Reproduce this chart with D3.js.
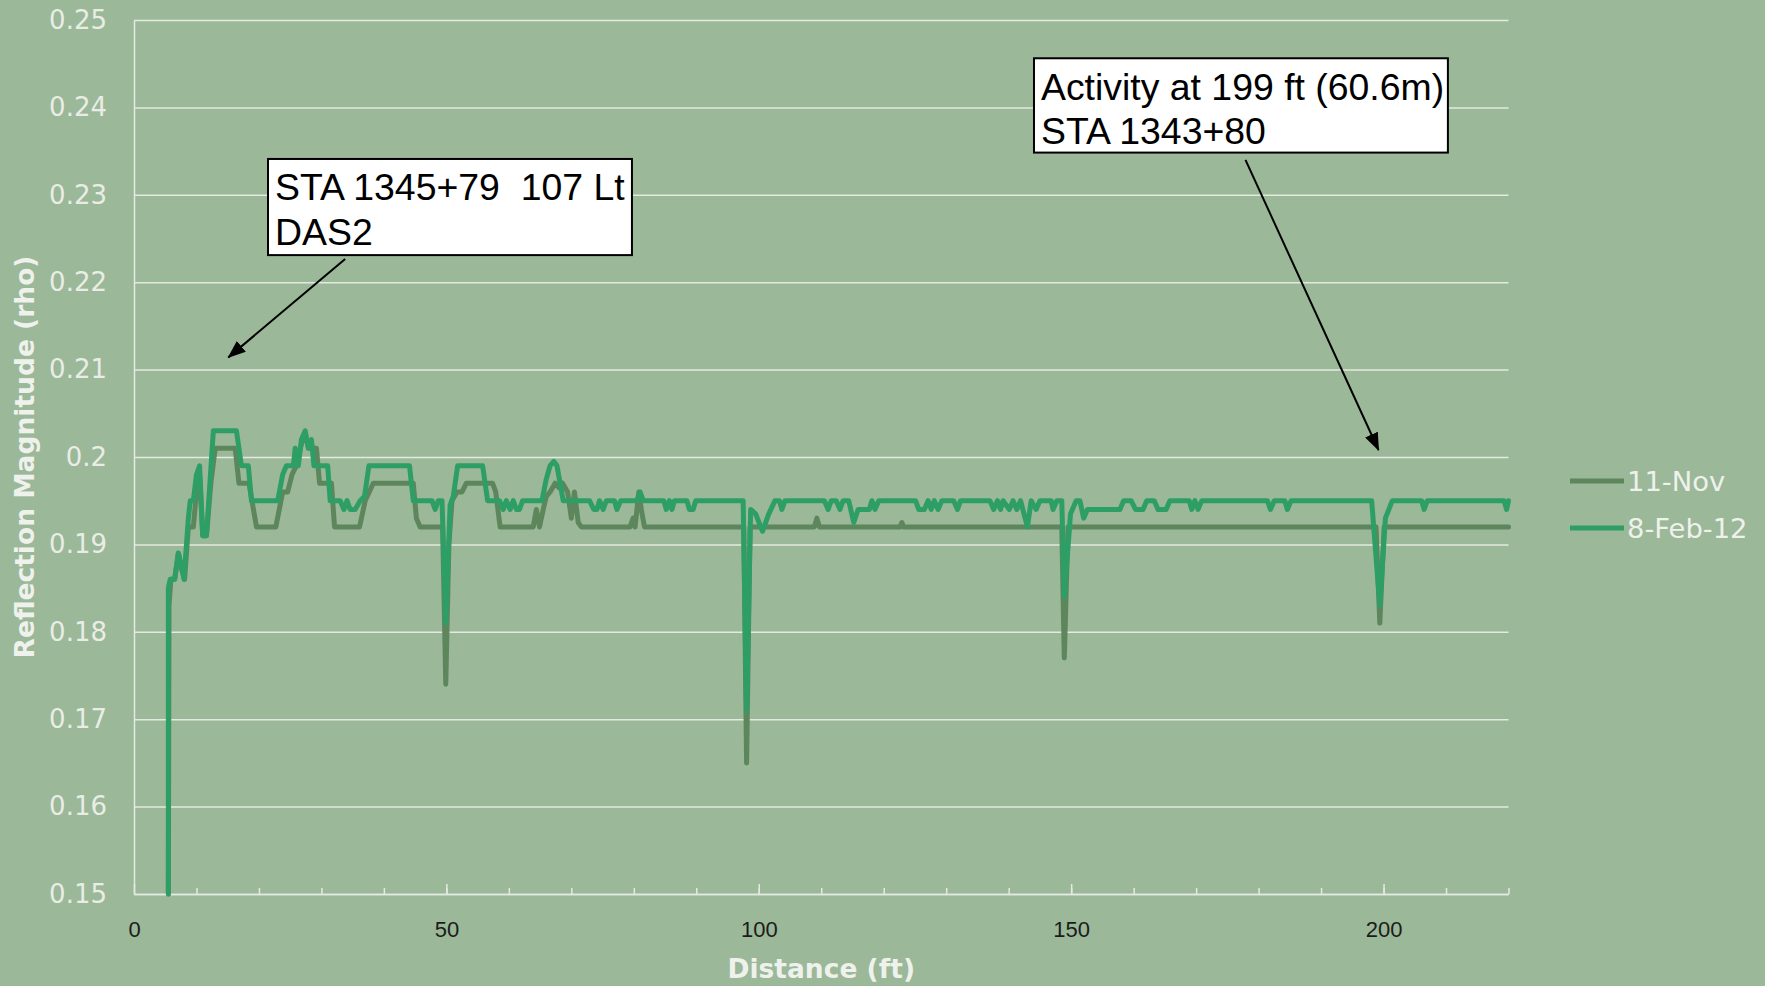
<!DOCTYPE html>
<html>
<head>
<meta charset="utf-8">
<script src="https://cdn.jsdelivr.net/npm/d3@7"></script>
<style>
  body { margin: 0; background: #9bb898; }
  svg { display: block; }
</style>
</head>
<body>
<div id="chart"></div>
<script>
// ---------------------------------------
// Data: [distance (ft), reflection magnitude (rho)]
// ---------------------------------------
const seriesNames = ["11-Nov", "8-Feb-12"];

const nov11 = [
  [5.5,0.150],[5.6,0.183],[5.9,0.186],[6.5,0.186],[7.1,0.189],[7.6,0.1872],[8.1,0.186],[8.7,0.192],
  [9.5,0.192],[10.0,0.196],[10.5,0.198],[11.0,0.191],[11.6,0.191],[12.3,0.197],[13.0,0.201],[16.2,0.201],
  [16.8,0.197],[18.4,0.197],[19.6,0.192],[22.7,0.192],[23.8,0.196],[24.6,0.196],[25.3,0.198],[26.0,0.199],
  [26.8,0.2015],[27.4,0.2025],[28.0,0.201],[29.2,0.201],[29.7,0.197],[31.6,0.197],[32.1,0.192],[36.1,0.192],
  [37.0,0.195],[38.3,0.197],[44.7,0.197],[45.2,0.193],[45.8,0.192],[49.4,0.192],[49.9,0.174],[50.4,0.190],
  [50.9,0.195],[51.7,0.196],[52.5,0.196],[53.2,0.197],[57.4,0.197],[57.9,0.196],[58.6,0.192],[63.9,0.192],
  [64.4,0.194],[64.9,0.192],[65.5,0.194],[66.0,0.1955],[66.6,0.196],[67.4,0.197],[68.0,0.1965],[68.6,0.197],
  [69.4,0.196],[70.0,0.193],[70.5,0.196],[71.1,0.1925],[71.6,0.192],[79.4,0.192],[79.9,0.193],[80.2,0.192],
  [80.8,0.196],[81.2,0.194],[81.7,0.192],[97.6,0.192],[98.05,0.165],[98.6,0.192],[108.9,0.192],[109.3,0.193],
  [109.7,0.192],[122.6,0.192],[122.9,0.1925],[123.2,0.192],[148.5,0.192],[148.9,0.177],[149.5,0.192],
  [198.8,0.192],[199.4,0.181],[200.1,0.192],[220,0.192]
];

const feb12 = [
  [5.5,0.150],[5.5,0.185],[5.8,0.186],[6.5,0.186],[7.1,0.189],[7.6,0.1875],[8.0,0.186],[8.7,0.193],
  [9.0,0.195],[9.5,0.195],[10.0,0.198],[10.5,0.199],[11.0,0.191],[11.6,0.191],[12.7,0.203],[16.4,0.203],
  [17.2,0.199],[18.3,0.199],[18.8,0.195],[23.0,0.195],[23.8,0.198],[24.4,0.199],[25.5,0.199],[25.8,0.201],
  [26.3,0.199],[26.8,0.202],[27.4,0.203],[27.9,0.201],[28.4,0.202],[28.8,0.199],[31.0,0.199],[31.4,0.195],
  [33.0,0.195],[33.6,0.194],[34.1,0.195],[34.6,0.194],[35.4,0.194],[36.2,0.195],[36.9,0.1955],[37.6,0.199],
  [44.1,0.199],[44.7,0.195],[47.7,0.195],[48.2,0.194],[48.7,0.195],[49.3,0.195],[49.9,0.181],[50.6,0.1945],
  [51.1,0.1955],[51.8,0.199],[55.8,0.199],[56.6,0.195],[58.5,0.195],[59.1,0.194],[59.6,0.195],[60.2,0.194],
  [60.7,0.195],[61.2,0.194],[61.7,0.194],[62.2,0.195],[65.3,0.195],[66.0,0.1975],[66.6,0.199],[67.2,0.1995],
  [67.7,0.199],[68.7,0.195],[72.9,0.195],[73.6,0.194],[74.1,0.194],[74.5,0.195],[75.1,0.194],[75.6,0.195],
  [76.9,0.195],[77.3,0.194],[77.9,0.195],[80.5,0.195],[81.0,0.196],[81.5,0.195],[84.8,0.195],[85.2,0.194],
  [85.7,0.195],[86.1,0.194],[86.5,0.195],[88.5,0.195],[88.9,0.194],[89.5,0.194],[89.9,0.195],[97.5,0.195],
  [98.05,0.171],[98.7,0.194],[99.5,0.1935],[100.6,0.1915],[101.6,0.1935],[102.6,0.195],[103.3,0.195],
  [103.7,0.194],[104.2,0.195],[110.5,0.195],[111.1,0.194],[111.6,0.195],[112.4,0.195],[113.0,0.194],
  [113.5,0.195],[114.4,0.195],[115.2,0.1925],[115.9,0.194],[117.7,0.194],[118.1,0.195],[118.6,0.194],
  [119.2,0.195],[125.1,0.195],[125.6,0.194],[126.5,0.194],[127.1,0.195],[127.6,0.194],[128.1,0.195],
  [128.7,0.194],[129.3,0.195],[131.2,0.195],[131.8,0.194],[132.3,0.195],[137.0,0.195],[137.6,0.194],
  [138.2,0.195],[138.7,0.194],[139.1,0.195],[140.1,0.194],[140.7,0.195],[141.3,0.194],[141.9,0.195],
  [143.0,0.192],[143.6,0.195],[144.4,0.194],[145.0,0.195],[146.8,0.195],[147.1,0.194],[147.7,0.195],
  [148.5,0.195],[148.9,0.184],[149.9,0.1935],[150.8,0.195],[151.4,0.195],[152.0,0.193],[152.6,0.194],
  [157.8,0.194],[158.4,0.195],[159.6,0.195],[160.3,0.194],[161.5,0.194],[162.1,0.195],[163.3,0.195],
  [163.9,0.194],[165.2,0.194],[165.8,0.195],[168.9,0.195],[169.3,0.194],[169.8,0.195],[170.3,0.194],
  [170.9,0.195],[181.4,0.195],[181.9,0.194],[182.5,0.195],[184.2,0.195],[184.6,0.194],[185.2,0.195],
  [198.1,0.195],[199.4,0.183],[200.3,0.193],[201.4,0.195],[206.1,0.195],[206.5,0.194],[207.0,0.195],
  [219.3,0.195],[219.7,0.194],[220,0.195]
];

const yTicks = [0.15, 0.16, 0.17, 0.18, 0.19, 0.20, 0.21, 0.22, 0.23, 0.24, 0.25];
const xTicks = [0, 50, 100, 150, 200];
const xMinorTicks = d3.range(10, 221, 10);
const calloutText = [
  ["STA 1345+79  107 Lt", "DAS2"],
  ["Activity at 199 ft (60.6m)", "STA 1343+80"]
];

// ---------------------------------------
// Layout
// ---------------------------------------
const W = 1765, H = 986;
const margin = { top: 20, right: 256.5, bottom: 92, left: 134 };
const width = W - margin.left - margin.right;
const height = H - margin.top - margin.bottom;

const colors = { nov: "#5e865c", feb: "#2e9e67", grid: "#e4eae1", light: "#eef1ec", bg: "#9bb898" };

const svg = d3.select("#chart").append("svg")
  .attr("width", W)
  .attr("height", H);

svg.append("rect").attr("width", W).attr("height", H).attr("fill", colors.bg);

const g = svg.append("g")
  .attr("transform", `translate(${margin.left},${margin.top})`);

const x = d3.scaleLinear().domain([0, 220]).range([0, width]);
const y = d3.scaleLinear().domain([0.15, 0.25]).range([height, 0]);

// y axis + gridlines
const yAxis = g.append("g")
  .call(d3.axisLeft(y)
    .tickValues(yTicks)
    .tickSize(-width)
    .tickSizeOuter(0)
    .tickPadding(27)
    .tickFormat(d => String(+d.toFixed(2))));

yAxis.select(".domain").attr("stroke", colors.grid).attr("stroke-width", 1.5);
yAxis.selectAll(".tick line").attr("stroke", colors.grid).attr("stroke-width", 1.5);
yAxis.selectAll(".tick text")
  .attr("fill", "#e9ede6")
  .style("font-family", "'DejaVu Sans', Verdana, sans-serif")
  .style("font-size", "26px");

// x axis: minor ticks, then major ticks with labels
const xMinor = g.append("g")
  .attr("transform", `translate(0,${height})`)
  .call(d3.axisBottom(x).tickValues(xMinorTicks).tickSize(-6).tickSizeOuter(0).tickFormat(""));
xMinor.select(".domain").attr("stroke", colors.grid).attr("stroke-width", 1.5);
xMinor.selectAll(".tick line").attr("stroke", colors.grid).attr("stroke-width", 1.5);

const xMajor = g.append("g")
  .attr("transform", `translate(0,${height})`)
  .call(d3.axisBottom(x).tickValues(xTicks).tickSize(-10).tickSizeOuter(0).tickPadding(27));
xMajor.select(".domain").remove();
xMajor.selectAll(".tick line").attr("stroke", colors.grid).attr("stroke-width", 1.5);
xMajor.selectAll(".tick text")
  .attr("fill", "#1c1c1c")
  .style("font-family", "'Liberation Sans', Arial, sans-serif")
  .style("font-size", "22px");

// Axis titles
g.append("text")
  .attr("x", width / 2)
  .attr("y", height + 84)
  .attr("text-anchor", "middle")
  .attr("fill", colors.light)
  .style("font-family", "'DejaVu Sans', Verdana, sans-serif")
  .style("font-weight", "bold")
  .style("font-size", "26.5px")
  .text("Distance (ft)");

g.append("text")
  .attr("transform", "rotate(-90)")
  .attr("x", -height / 2)
  .attr("y", -100)
  .attr("text-anchor", "middle")
  .attr("fill", colors.light)
  .style("font-family", "'DejaVu Sans', Verdana, sans-serif")
  .style("font-weight", "bold")
  .style("font-size", "26.5px")
  .text("Reflection Magnitude (rho)");

// ---------------------------------------
// Lines
// ---------------------------------------
const line = d3.line().x(d => x(d[0])).y(d => y(d[1]));

const series = [
  { name: seriesNames[0], values: nov11, color: colors.nov },
  { name: seriesNames[1], values: feb12, color: colors.feb }
];

g.selectAll(".series")
  .data(series)
  .enter()
  .append("path")
  .attr("class", "series")
  .attr("d", d => line(d.values))
  .attr("fill", "none")
  .attr("stroke", d => d.color)
  .attr("stroke-width", 5)
  .attr("stroke-linejoin", "round")
  .attr("stroke-linecap", "round");

// ---------------------------------------
// Legend
// ---------------------------------------
const legend = svg.append("g").attr("transform", "translate(1570,481)");
series.forEach((s, i) => {
  const row = legend.append("g").attr("transform", `translate(0,${i * 47})`);
  row.append("line")
    .attr("x1", 0).attr("x2", 54)
    .attr("stroke", s.color)
    .attr("stroke-width", 4.8);
  row.append("text")
    .attr("x", 57)
    .attr("y", 10)
    .attr("fill", colors.light)
    .style("font-family", "'DejaVu Sans', Verdana, sans-serif")
    .style("font-size", "27.4px")
    .text(s.name);
});

// ---------------------------------------
// Callouts (box + arrow), placed in data units
// ---------------------------------------
const callouts = [
  { box: [21.45, 0.2341, 79.7, 0.2231], from: [33.8, 0.22265], to: [15.1, 0.2114] },
  { box: [144.05, 0.24562, 210.3, 0.23483], from: [177.9, 0.234], to: [199.2, 0.2008] }
];

svg.append("defs").append("marker")
  .attr("id", "arrowhead")
  .attr("markerUnits", "userSpaceOnUse")
  .attr("viewBox", "0 0 18 14")
  .attr("refX", 17)
  .attr("refY", 7)
  .attr("markerWidth", 18)
  .attr("markerHeight", 14)
  .attr("orient", "auto")
  .append("path")
  .attr("d", "M0,0L18,7L0,14Z")
  .attr("fill", "#000");

callouts.forEach((c, i) => {
  const [bx0, by0, bx1, by1] = c.box;
  const left = x(bx0), top = y(by0);
  const cg = g.append("g");

  cg.append("line")
    .attr("x1", x(c.from[0])).attr("y1", y(c.from[1]))
    .attr("x2", x(c.to[0])).attr("y2", y(c.to[1]))
    .attr("stroke", "#000")
    .attr("stroke-width", 2)
    .attr("marker-end", "url(#arrowhead)");

  cg.append("rect")
    .attr("x", left).attr("y", top)
    .attr("width", x(bx1) - left)
    .attr("height", y(by1) - top)
    .attr("fill", "#fff")
    .attr("stroke", "#000")
    .attr("stroke-width", 2);

  calloutText[i].forEach((t, j) => {
    cg.append("text")
      .attr("x", left + 7)
      .attr("y", top + 41.5 + j * 44.5)
      .attr("fill", "#000")
      .style("font-family", "'Liberation Sans', Arial, sans-serif")
      .style("font-size", "37.4px")
      .style("white-space", "pre")
      .text(t);
  });
});
</script>
</body>
</html>
